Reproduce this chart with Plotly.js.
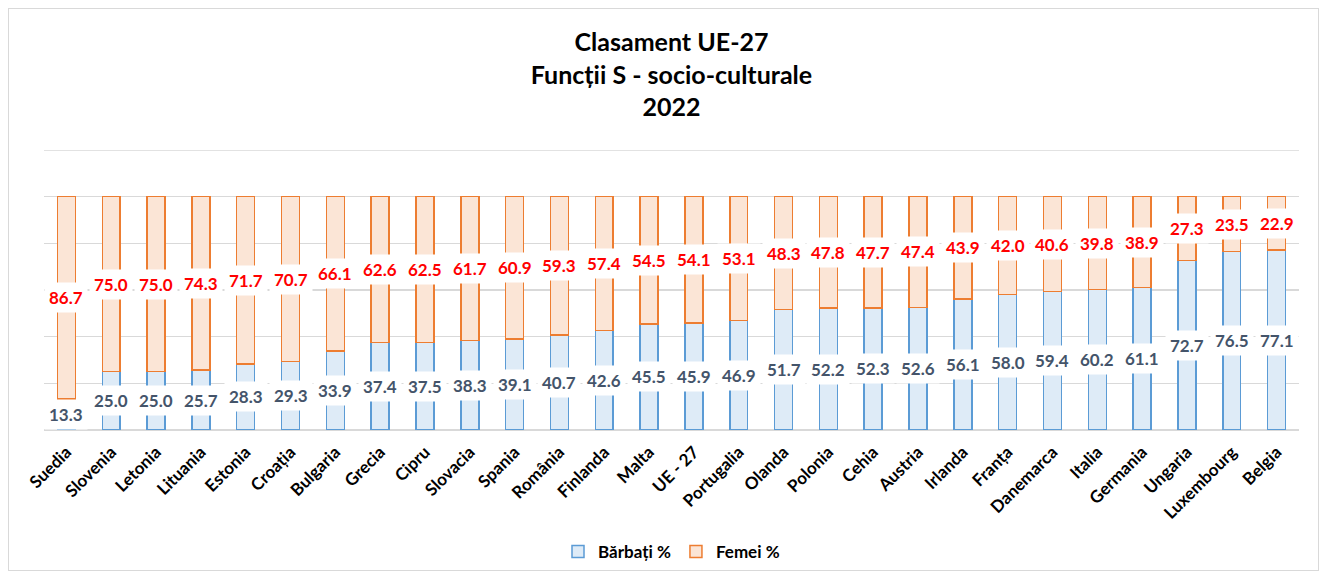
<!DOCTYPE html>
<html>
<head>
<meta charset="utf-8">
<script src="https://cdn.plot.ly/plotly-3.0.1.min.js"></script>
<style>
html,body{margin:0;padding:0;background:#fff;}
#wrap{position:relative;width:1326px;height:579px;}
#chart{width:1326px;height:579px;}
#frame{position:absolute;left:8px;top:8px;width:1309px;height:561px;border:1px solid #D9D9D9;pointer-events:none;}
</style>
</head>
<body>
<div id="wrap"><div id="chart"></div><div id="frame"></div></div>
<script>
const categories = ["Suedia","Slovenia","Letonia","Lituania","Estonia","Croația","Bulgaria","Grecia","Cipru","Slovacia","Spania","România","Finlanda","Malta","UE - 27","Portugalia","Olanda","Polonia","Cehia","Austria","Irlanda","Franța","Danemarca","Italia","Germania","Ungaria","Luxembourg","Belgia"];
const barbati = [13.3,25.0,25.0,25.7,28.3,29.3,33.9,37.4,37.5,38.3,39.1,40.7,42.6,45.5,45.9,46.9,51.7,52.2,52.3,52.6,56.1,58.0,59.4,60.2,61.1,72.7,76.5,77.1];
const femei = [86.7,75.0,75.0,74.3,71.7,70.7,66.1,62.6,62.5,61.7,60.9,59.3,57.4,54.5,54.1,53.1,48.3,47.8,47.7,47.4,43.9,42.0,40.6,39.8,38.9,27.3,23.5,22.9];
const seriesNames = ["Bărbați %","Femei %"];

const FONT = "Lato, 'Open Sans', sans-serif";
const H = 579;

const traces = [
  {type:'bar', name:seriesNames[0], x:categories, y:barbati, width:0.4,
   marker:{color:'#DEEBF7', line:{color:'#5B9BD5', width:1.5}}, hoverinfo:'x+y'},
  {type:'bar', name:seriesNames[1], x:categories, y:femei, width:0.4,
   marker:{color:'#FBE5D6', line:{color:'#ED7D31', width:1.5}}, hoverinfo:'x+y'}
];

const annotations = [];
categories.forEach((c,i)=>{
  annotations.push({x:c, y:barbati[i]/2, xref:'x', yref:'y', text:barbati[i].toFixed(1), showarrow:false,
    bgcolor:'#FFFFFF', borderpad:4, font:{family:FONT, size:17, color:'#44546A', weight:'bold'}});
  annotations.push({x:c, y:barbati[i]+femei[i]/2, xref:'x', yref:'y', text:femei[i].toFixed(1), showarrow:false,
    bgcolor:'#FFFFFF', borderpad:4, font:{family:FONT, size:17, color:'#FF0000', weight:'bold'}});
});

const layout = {
  width:1326, height:H,
  paper_bgcolor:'#FFFFFF', plot_bgcolor:'#FFFFFF',
  margin:{l:44, r:27, t:150, b:149, autoexpand:false},
  barmode:'stack', bargap:0.6,
  font:{family:FONT, color:'#000'},
  title:{text:'<b>Clasament UE-27<br>Funcții S - socio-culturale<br>2022</b>', x:0.5, xref:'paper',
    yref:'container', y:1-51/H, yanchor:'top',
    font:{family:FONT, size:25, color:'#000'}},
  xaxis:{type:'category', tickangle:-45, automargin:false, ticklabelstandoff:8,
    tickfont:{family:FONT, size:17, color:'#000', weight:'bold'},
    showgrid:false, showline:false, ticks:'', zeroline:false},
  yaxis:{range:[0,120], dtick:20, automargin:false, showticklabels:false, gridcolor:'#D9D9D9', gridwidth:1.3,
    zeroline:true, zerolinecolor:'#D9D9D9', zerolinewidth:1.3, fixedrange:true},
  shapes:[{type:'line', xref:'paper', yref:'y', x0:0, x1:1, y0:120, y1:120, line:{color:'#D9D9D9', width:1.3}, layer:'below'}],
  legend:{orientation:'h', x:0.5, xanchor:'center', yref:'container', y:1-552/H, yanchor:'middle', xref:'paper',
    font:{family:FONT, size:17, color:'#000', weight:'bold'}, traceorder:'normal', itemwidth:30},
  annotations:annotations,
  showlegend:true
};

Plotly.newPlot('chart', traces, layout, {displayModeBar:false, staticPlot:true});
</script>
</body>
</html>
